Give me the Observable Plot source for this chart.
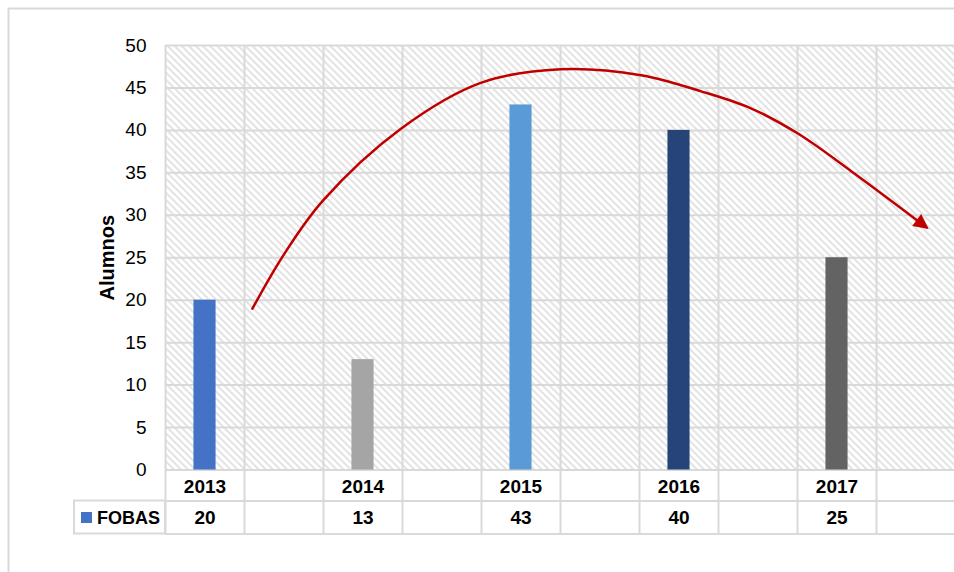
<!DOCTYPE html>
<html>
<head>
<meta charset="utf-8">
<script src="https://cdn.jsdelivr.net/npm/d3@7"></script>
<script src="https://cdn.jsdelivr.net/npm/@observablehq/plot@0.6"></script>
<style>
  html, body { margin: 0; padding: 0; background: #fff; }
  #chart { position: relative; width: 954px; height: 572px; overflow: hidden; }
</style>
</head>
<body>
<svg width="0" height="0" style="position:absolute">
  <defs>
    <pattern id="hatch" width="5" height="5" patternUnits="userSpaceOnUse" patternTransform="rotate(-45)">
      <rect width="5" height="5" fill="#ffffff"></rect>
      <line x1="1" y1="0" x2="1" y2="5" stroke="#e0e0e0" stroke-width="1.8"></line>
    </pattern>
    <marker id="arrowhead" viewBox="0 0 10 10" refX="8" refY="5" markerUnits="userSpaceOnUse" markerWidth="18" markerHeight="15" orient="auto">
      <path d="M0,0 L10,5 L0,10 z" fill="#c00000"></path>
    </marker>
  </defs>
</svg>
<div id="chart"></div>
<script>
// ---- data ----
const slots = ["2013", "", "2014", "", "2015", "", "2016", "", "2017", ""];
const years = ["2013", "2014", "2015", "2016", "2017"];
const values = [20, 13, 43, 40, 25];
const barColors = ["#4472c4", "#a5a5a5", "#5b9bd5", "#264478", "#636363"];
const yTicks = [0, 5, 10, 15, 20, 25, 30, 35, 40, 45, 50];
const seriesName = "FOBAS";
const yLabel = "Alumnos";
// trend arrow (x in slot units, y in Alumnos)
const arrowX = [1.10, 1.50, 1.99, 2.98, 3.99, 5.00, 6.02, 6.78, 7.41, 8.01, 8.68, 9.63];
const arrowY = [19.0, 25.4, 31.7, 40.2, 45.6, 47.2, 46.5, 44.6, 42.6, 39.6, 35.2, 28.6];

// ---- derived tables ----
const bars = years.map((y, i) => ({year: y, value: values[i], slot: slots.indexOf(y), color: barColors[i]}));
const slotRows = slots.map((s, i) => ({label: s, i}));
const arrowPts = arrowX.map((x, i) => ({x, y: arrowY[i]}));
const boundaries = d3.range(0, slots.length + 1);

const FONT = '"Liberation Sans Narrow", "Arial Narrow", "Liberation Sans", Arial, sans-serif';
const grid = "#d9d9d9";
const W = 954, H = 572;
const mL = 165, mT = 45, mB = 38;
const zeroY = 469.5;

const chart = Plot.plot({
  width: W,
  height: H,
  marginLeft: mL,
  marginRight: -1,
  marginTop: mT,
  marginBottom: mB,
  style: {fontFamily: FONT, fontSize: "19px", color: "#000", background: "transparent"},
  x: {type: "linear", domain: [0, slots.length], axis: null},
  y: {domain: [0, 50], range: [zeroY, mT], ticks: yTicks, tickSize: 0, tickPadding: 19, label: null, axis: "left"},
  color: {type: "identity"},
  marks: [
    Plot.rect([{}], {x1: 0, x2: slots.length, y1: 0, y2: 50, fill: "url(#hatch)"}),
    Plot.ruleY(yTicks, {stroke: grid, strokeWidth: 2}),
    Plot.ruleY([0], {dy: 31, stroke: grid, strokeWidth: 2}),
    Plot.ruleY([0], {dy: 64, stroke: grid, strokeWidth: 2}),
    Plot.ruleX(boundaries, {stroke: grid, strokeWidth: 2}),
    Plot.rectY(bars, {x1: d => d.slot + 0.36, x2: d => d.slot + 0.64, y1: 0, y2: "value", fill: "color"}),
    Plot.line(arrowPts, {x: "x", y: "y", stroke: "#c00000", strokeWidth: 2.5, curve: "catmull-rom"}),
    Plot.text(slotRows, {x: d => d.i + 0.5, y: 0, dy: 17, text: "label", fontWeight: "bold", fontSize: 19}),
    Plot.text(bars, {x: d => d.slot + 0.5, y: 0, dy: 48, text: d => String(d.value), fontWeight: "bold", fontSize: 19}),
    Plot.text([yLabel], {y: 25, frameAnchor: "left", textAnchor: "middle", dx: -58, rotate: -90, fontWeight: "bold", fontSize: 20, text: d => d})
  ]
});

document.getElementById("chart").appendChild(chart);

const svg = d3.select(chart);
// arrow head on the trend line
svg.selectAll('g[aria-label="line"] path').attr("marker-end", "url(#arrowhead)");

// outer chart border
svg.insert("path", ":first-child")
  .attr("d", `M8.5,${H + 2} V8.5 H${W + 2}`)
  .attr("fill", "none").attr("stroke", grid).attr("stroke-width", 2);

// legend key cell of the data table
const cell = svg.append("g");
cell.append("rect").attr("x", 74).attr("y", zeroY + 31).attr("width", mL - 74).attr("height", 33)
  .attr("fill", "none").attr("stroke", grid).attr("stroke-width", 2);
cell.append("rect").attr("x", 81).attr("y", 512).attr("width", 11).attr("height", 11).attr("fill", barColors[0]);
cell.append("text").attr("x", 97).attr("y", zeroY + 48).attr("dy", "0.35em")
  .attr("text-anchor", "start")
  .attr("font-family", FONT)
  .attr("font-weight", "bold").attr("font-size", 18).attr("fill", "#000").text(seriesName);
</script>
</body>
</html>
